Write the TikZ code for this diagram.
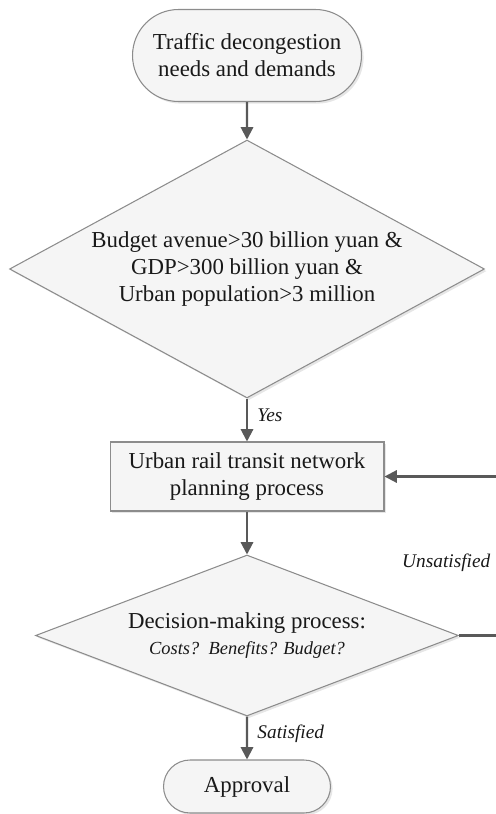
\documentclass[tikz,border=0pt]{standalone}
\usepackage{fontspec}
\setmainfont{Liberation Serif}
\usetikzlibrary{shapes.geometric,shapes.misc,arrows.meta,shadows}
\begin{document}
\begin{tikzpicture}[x=0.02cm,y=0.02cm,
  every node/.style={font=\fontsize{13}{15.3}\selectfont, text=black!90},
  shapebox/.style={draw=black!45, fill=black!4, line width=0.6pt,
    drop shadow={opacity=0.2, shadow xshift=1.2pt, shadow yshift=-1.2pt}},
  term/.style={shapebox, rounded rectangle, inner sep=0pt, align=center},
  proc/.style={shapebox, rectangle, inner sep=0pt, align=center},
  decis/.style={shapebox, diamond, inner sep=0pt, align=center},
  conn/.style={draw=black!65, line width=1.2pt, -{Triangle[length=7pt,width=7pt]}},
  lab/.style={font=\fontsize{11}{13}\selectfont\itshape, anchor=west}]
\useasboundingbox (0,0) rectangle (496,-814);
\node[term, minimum width=4.58cm, minimum height=1.84cm] (start) at (247,-55.5)
  {Traffic decongestion\\needs and demands};
\node[decis, aspect=1.84, minimum width=9.5cm, minimum height=5.16cm] (cond) at (247,-269)
  {Budget avenue>30 billion yuan \&\\GDP>300 billion yuan \&\\Urban population>3 million};
\node[proc, minimum width=5.48cm, minimum height=1.38cm] (plan) at (247,-476.5)
  {Urban rail transit network\\planning process};
\node[decis, aspect=2.64, minimum width=8.46cm, minimum height=3.22cm] (decide) at (247,-635.5)
  {Decision-making process:\\[-1pt]{\fontsize{10.5}{12}\selectfont\itshape Costs?\ \ Benefits? Budget?}};
\node[term, minimum width=3.34cm, minimum height=1.06cm] (approve) at (247,-786.5)
  {Approval};
\coordinate (rb) at (498,-635.5);
\draw[conn] (start) -- (cond);
\draw[conn] (cond) -- node[lab, pos=0.4, xshift=2pt] (yes) {Yes} (plan);
\draw[conn] (plan) -- (decide);
\draw[conn] (decide) -- node[lab, pos=0.4, xshift=2pt] (sat) {Satisfied} (approve);
\draw[conn] (decide.east) -- (rb) |- (plan.east);
\node[lab] (unsat) at (396,-563) {Unsatisfied};
\end{tikzpicture}
\end{document}
